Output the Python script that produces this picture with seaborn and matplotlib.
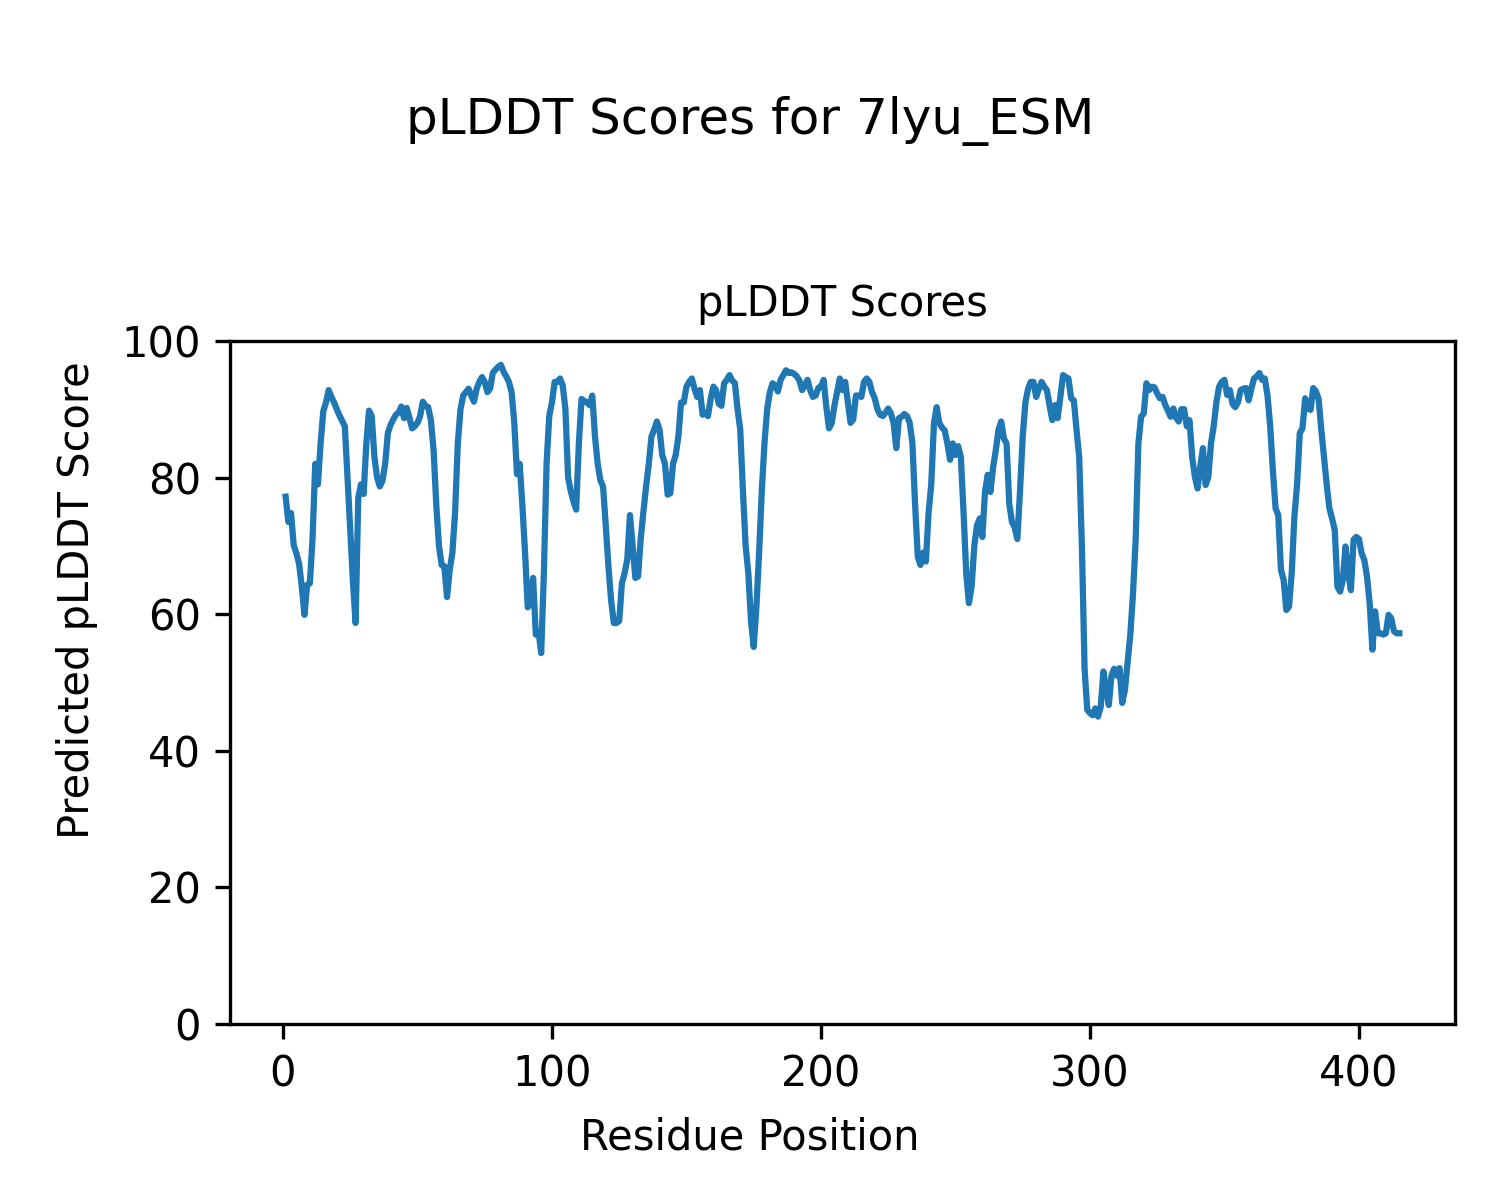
import numpy as np
import pandas as pd
import matplotlib
matplotlib.use("Agg")
import matplotlib.pyplot as plt
import seaborn as sns

# pLDDT per residue
plddt = [
    77.2, 73.5, 74.8, 70.1, 68.9, 67.4, 64.0, 59.9, 64.3, 64.5,
    71.0, 82.0, 79.0, 85.0, 89.7, 91.0, 92.8, 91.8, 91.0, 90.0,
    89.1, 88.3, 87.5, 80.1, 72.5, 64.9, 58.7, 77.0, 79.0, 77.6,
    85.0, 89.8, 89.0, 83.0, 80.0, 78.7, 79.5, 82.0, 86.5, 87.7,
    88.5, 89.2, 89.5, 90.4, 88.7, 90.2, 88.8, 87.2, 87.5, 88.0,
    89.0, 91.1, 90.5, 90.3, 88.4, 84.0, 76.0, 70.0, 67.2, 67.0,
    62.5, 66.5, 69.0, 75.0, 85.0, 90.0, 92.0, 92.5, 93.0, 92.0,
    91.1, 93.0, 94.0, 94.7, 94.0, 92.5, 93.0, 95.3, 95.8, 96.2,
    96.5, 95.5, 94.8, 94.0, 92.5, 88.0, 80.5, 82.0, 76.0, 69.0,
    61.0, 61.5, 65.3, 57.0, 57.5, 54.3, 66.0, 82.0, 89.0, 91.0,
    94.0, 94.0, 94.5, 93.5, 90.0, 80.0, 78.0, 76.5, 75.3, 85.0,
    91.5, 91.2, 91.0, 90.6, 92.0, 86.0, 82.0, 79.6, 78.7, 73.0,
    67.0, 62.0, 58.7, 58.7, 59.0, 64.5, 66.0, 68.0, 74.5, 70.0,
    65.3, 65.5, 71.0, 75.0, 78.7, 82.0, 86.0, 87.0, 88.2, 87.0,
    83.3, 82.0, 77.5, 77.7, 82.0, 83.3, 86.0, 91.0, 91.0, 93.3,
    94.0, 94.5, 93.0, 91.8, 92.8, 89.2, 89.5, 89.0, 91.5, 93.3,
    92.8, 90.8, 90.5, 93.8, 94.3, 95.0, 94.2, 93.8, 90.0, 87.0,
    78.0, 70.0, 66.0, 59.0, 55.2, 61.0, 68.9, 78.0, 85.0, 90.0,
    92.5, 93.8, 93.5, 92.6, 94.3, 95.0, 95.7, 95.3, 95.4, 95.2,
    94.8, 94.2, 92.8, 93.5, 94.3, 92.8, 91.8, 92.0, 93.1, 93.3,
    94.3, 90.3, 87.2, 88.0, 90.5, 92.5, 94.5, 92.8, 94.0, 91.0,
    88.0, 88.5, 92.0, 92.0, 91.8, 94.0, 94.5, 94.0, 92.5, 91.6,
    90.0, 89.2, 89.0, 89.5, 90.1, 89.4, 88.0, 84.3, 88.7, 88.9,
    89.3, 89.0, 88.0, 85.0, 76.0, 68.4, 67.2, 69.0, 67.7, 74.8,
    79.0, 87.9, 90.3, 88.0, 87.3, 86.9, 85.0, 82.6, 85.0, 83.3,
    84.6, 83.0, 75.0, 66.0, 61.6, 64.0, 70.0, 73.0, 74.0, 71.3,
    78.0, 80.4, 77.9, 81.5, 84.0, 87.0, 88.2, 85.7, 85.0, 76.2,
    73.5, 72.7, 71.0, 78.0, 86.0, 91.0, 93.0, 94.0, 94.0, 91.8,
    93.0, 94.0, 93.3, 92.8, 90.5, 88.4, 90.6, 88.7, 91.8, 95.0,
    94.7, 94.5, 91.6, 91.3, 87.0, 83.0, 70.0, 52.0, 46.0, 45.5,
    45.2, 46.2, 45.0, 46.4, 51.6, 49.0, 46.7, 51.0, 52.0, 51.0,
    52.1, 47.0, 48.9, 53.0, 57.0, 63.0, 71.0, 85.0, 88.9, 89.4,
    93.8, 92.8, 93.3, 93.2, 92.3, 91.6, 91.8, 90.6, 89.8, 88.9,
    90.1, 88.8, 88.2, 90.0, 90.0, 87.5, 88.4, 83.0, 80.1, 78.4,
    81.6, 84.3, 78.9, 80.1, 85.0, 87.5, 91.0, 93.3, 94.0, 94.3,
    92.1, 92.8, 90.8, 90.3, 91.0, 92.8, 93.0, 93.1, 91.3, 93.0,
    94.5, 94.8, 95.3, 94.3, 94.5, 92.0, 87.5, 81.0, 75.5, 74.5,
    66.5, 65.0, 60.6, 61.1, 66.0, 74.3, 79.0, 86.5, 87.2, 91.6,
    90.1, 89.9, 93.1, 92.6, 91.5, 87.0, 83.0, 79.0, 75.5, 74.0,
    72.3, 64.0, 63.3, 65.0, 69.9, 66.0, 63.5, 70.9, 71.3, 71.0,
    68.9, 67.9, 65.5, 61.5, 54.8, 60.4, 57.2, 57.2, 57.0, 57.2,
    59.9, 59.4, 57.5, 57.2, 57.2,
]
residues = list(range(1, len(plddt) + 1))
protein = "7lyu_ESM"

df = pd.DataFrame({"Residue": residues, "pLDDT": plddt})

fig = plt.figure(figsize=(5, 4), dpi=300)
ax = fig.add_axes([0.1533, 0.1467, 0.8167, 0.5692])
sns.lineplot(data=df, x="Residue", y="pLDDT", ax=ax, color="#1f77b4", linewidth=1.5)

ax.set_ylim(0, 100)
ax.set_xticks([0, 100, 200, 300, 400])
ax.set_title("pLDDT Scores", fontsize=10)
ax.set_xlabel("")
ax.set_ylabel("")

# shared figure-level labels (centred on the figure, not the axes)
fig.text(0.5, 0.0517, "Residue Position", ha="center", va="center", fontsize=10)
fig.text(0.0513, 0.5, "Predicted pLDDT Score", ha="center", va="center",
         rotation=90, fontsize=10)
fig.suptitle(f"pLDDT Scores for {protein}", fontsize=12, y=0.92)

fig.savefig("out.png", dpi=300)
